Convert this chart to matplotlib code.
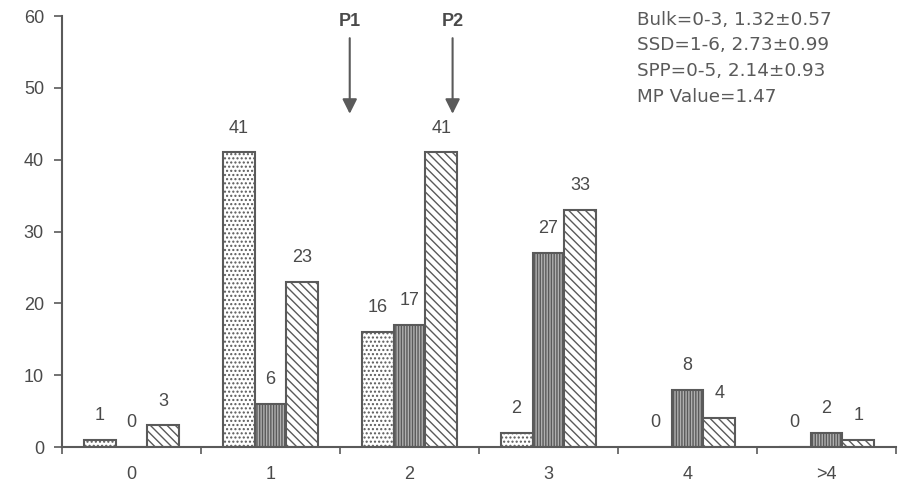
import numpy as np
import matplotlib
matplotlib.use("Agg")
import matplotlib.pyplot as plt

categories = ["0", "1", "2", "3", "4", ">4"]
bulk = [1, 41, 16, 2, 0, 0]
ssd = [0, 6, 17, 27, 8, 2]
spp = [3, 23, 41, 33, 4, 1]
info_lines = ["Bulk=0-3, 1.32\u00b10.57", "SSD=1-6, 2.73\u00b10.99",
              "SPP=0-5, 2.14\u00b10.93", "MP Value=1.47"]

grey = "#5a5a5a"
txt = "#4a4a4a"
plt.rcParams["hatch.linewidth"] = 1.0
plt.rcParams["font.family"] = ["Liberation Sans", "DejaVu Sans"]

fig = plt.figure(figsize=(8.99, 4.91), dpi=100)
ax = fig.add_axes([62 / 899, 1 - 447 / 491, (896 - 62) / 899, (447 - 16) / 491])

x = np.arange(len(categories))
w = 0.23
series = [(bulk, "....", "white"), (ssd, "||||||", "#b0b0b0"), (spp, "\\\\\\\\", "white")]
for k, (vals, hatch, fc) in enumerate(series):
    pos = x + (k - 1) * w
    ax.bar(pos, vals, width=w, facecolor=fc, edgecolor=grey, hatch=hatch, linewidth=1.5)
    for p, v in zip(pos, vals):
        ax.text(p, v + 2.2, str(v), ha="center", va="bottom", fontsize=13, color=txt)

ax.set_xlim(-0.5, 5.5)
ax.set_ylim(0, 60)
ax.set_yticks(range(0, 61, 10))
ax.set_xticks(np.arange(-0.5, 6.0, 1.0))
ax.set_xticklabels([])
ax.set_xticks(x, minor=True)
ax.set_xticklabels(categories, minor=True)
ax.tick_params(axis="x", which="minor", length=0, pad=14, labelsize=13, labelcolor=txt)
ax.tick_params(axis="x", which="major", length=5, color=grey, width=1.2)
ax.tick_params(axis="y", length=6, color=grey, width=1.2, pad=7, labelsize=13, labelcolor=txt)
for s in ["top", "right"]:
    ax.spines[s].set_visible(False)
for s in ["left", "bottom"]:
    ax.spines[s].set_color(grey)
    ax.spines[s].set_linewidth(1.5)

# P1 / P2 arrows
for label, xp in [("P1", 1.57), ("P2", 2.31)]:
    ax.annotate("", xy=(xp, 46.0), xytext=(xp, 57.3),
                arrowprops=dict(arrowstyle="-|>", color=grey, lw=1.5, mutation_scale=22))
    ax.text(xp, 58.0, label, ha="center", va="bottom", fontsize=13,
            fontweight="bold", color=txt)

for i, line in enumerate(info_lines):
    fig.text(637 / 899, 1 - (20 + i * 25.5) / 491, line, ha="left", va="center",
             fontsize=13.2, color="#5a5a5a", family="DejaVu Sans")

fig.savefig("out.png", dpi=100)
